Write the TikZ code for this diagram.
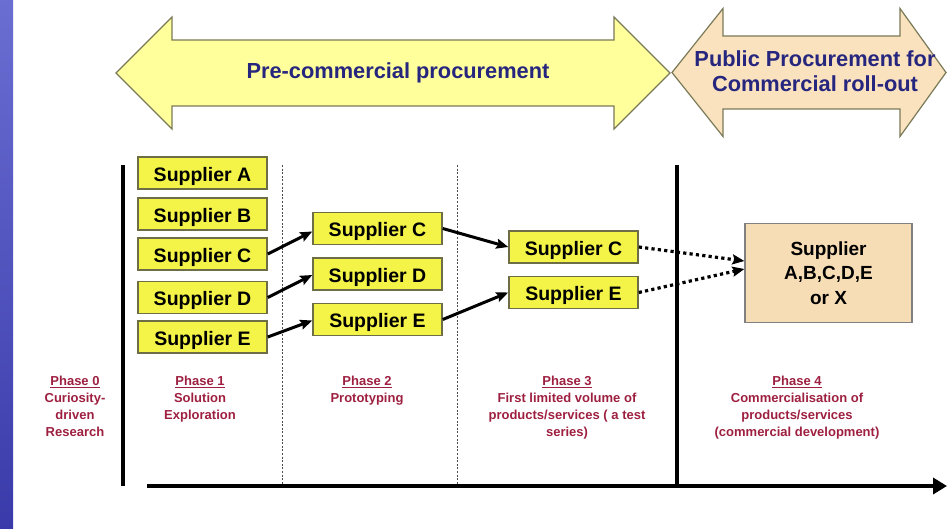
\documentclass[tikz,border=0pt]{standalone}
\usepackage{fontspec}
\setmainfont{Liberation Sans}
\usetikzlibrary{arrows.meta,calc}
\definecolor{boxyellow}{HTML}{F4F448}
\definecolor{boxborder}{HTML}{6E6E46}
\definecolor{arrowyellow}{HTML}{FFFF9C}
\definecolor{arrowborder}{HTML}{7A7A58}
\definecolor{arrowbeige}{HTML}{FAE2BE}
\definecolor{finbeige}{HTML}{F7DDB5}
\definecolor{navytext}{HTML}{26267F}
\definecolor{phasered}{HTML}{9E2040}
\definecolor{bluetop}{HTML}{6A6ED2}
\definecolor{bluebot}{HTML}{3A3AAA}
\begin{document}
\begin{tikzpicture}[x=1pt,y=-1pt,
  supplier/.style={draw=boxborder, fill=boxyellow, line width=1.5pt,
    minimum width=129pt, minimum height=32pt, inner sep=0pt,
    text height=16.5pt, text depth=0pt,
    font=\bfseries\fontsize{19.5}{23}\selectfont},
  finbox/.style={draw=gray, fill=finbeige, line width=1.2pt,
    minimum width=167pt, minimum height=99pt, inner sep=0pt, align=center,
    font=\bfseries\fontsize{19}{24.5}\selectfont},
  phaselabel/.style={anchor=north, align=center, inner sep=0pt, text=phasered,
    font=\bfseries\fontsize{13}{17}\selectfont},
  headtext/.style={align=center, inner sep=0pt, text=navytext,
    font=\bfseries\fontsize{21.8}{25}\selectfont},
  bigarrow/.style={draw=arrowborder, line width=1.2pt, line join=miter},
  sarrow/.style={line width=3pt, -{Stealth[length=12pt,width=10pt,inset=2pt]}},
  darrow/.style={line width=3.2pt, dash pattern=on 3.2pt off 3.2pt,
    -{Stealth[length=12pt,width=10pt,inset=2pt]}},
  phaseline/.style={line width=4.8pt},
  phasedots/.style={line width=0.8pt, draw=black!70, dash pattern=on 2pt off 1.6pt}
]
\useasboundingbox (0,0) rectangle (947,529);
\fill[white] (0,0) rectangle (947,529);
\shade[top color=bluetop, bottom color=bluebot] (0,0) rectangle (13,529);

% big arrows
\filldraw[bigarrow, fill=arrowyellow]
  (116,73) -- (172,17) -- (172,40) -- (614,40) -- (614,17) -- (670,73)
  -- (614,129) -- (614,106) -- (172,106) -- (172,129) -- cycle;
\filldraw[bigarrow, fill=arrowbeige]
  (672,72.5) -- (723,8.5) -- (723,36) -- (900,36) -- (900,8.5) -- (946,72.5)
  -- (900,136.5) -- (900,109) -- (723,109) -- (723,136.5) -- cycle;
\node[headtext] (pcp) at (398,73) {Pre-commercial procurement};
\node[headtext] (ppc) at (815,71) {Public Procurement for\\Commercial roll-out};

% phase separators and timeline
\coordinate (t0) at (147,486);
\coordinate (t1) at (947,486);
\draw[phaseline] (123,165) -- (123,486);
\draw[phaseline] (677,165) -- (677,486);
\draw[phasedots] (282,165) -- (282,484);
\draw[phasedots] (457,165) -- (457,484);
\draw[line width=4.8pt, -{Triangle[length=14pt,width=16pt]}] (t0) -- (t1);

% suppliers
\node[supplier] (a1) at (202.5,173) {Supplier A};
\node[supplier] (b1) at (202.5,214) {Supplier B};
\node[supplier] (c1) at (202.5,254) {Supplier C};
\node[supplier] (d1) at (202.5,297.5) {Supplier D};
\node[supplier] (e1) at (202.5,337) {Supplier E};
\node[supplier] (c2) at (377.5,228.5) {Supplier C};
\node[supplier] (d2) at (377.5,274) {Supplier D};
\node[supplier] (e2) at (377.5,319.5) {Supplier E};
\node[supplier] (c3) at (573.5,247) {Supplier C};
\node[supplier] (e3) at (573.5,292.5) {Supplier E};
\node[finbox] (fin) at (828.5,273) {Supplier\\A,B,C,D,E\\or X};

\draw[sarrow] (c1.east) -- ([yshift=-3pt]c2.west);
\draw[sarrow] (d1.east) -- ([yshift=-1pt]d2.west);
\draw[sarrow] (e1.east) -- ([yshift=-1pt]e2.west);
\draw[sarrow] (c2.east) -- (c3.west);
\draw[sarrow] (e2.east) -- (e3.west);
\draw[darrow] (c3.east) -- ([yshift=12pt]fin.west);
\draw[darrow] (e3.east) -- ([yshift=4pt]fin.west);

% phase labels
\node[phaselabel] (p0) at (75,376) {\underline{Phase 0}\\Curiosity-\\driven\\Research};
\node[phaselabel] (p1) at (200,376) {\underline{Phase 1}\\Solution\\Exploration};
\node[phaselabel] (p2) at (367,376) {\underline{Phase 2}\\Prototyping};
\node[phaselabel] (p3) at (567,376) {\underline{Phase 3}\\First limited volume of\\products/services ( a test\\series)};
\node[phaselabel] (p4) at (797,376) {\underline{Phase 4}\\Commercialisation of\\products/services\\(commercial development)};
\end{tikzpicture}
\end{document}
